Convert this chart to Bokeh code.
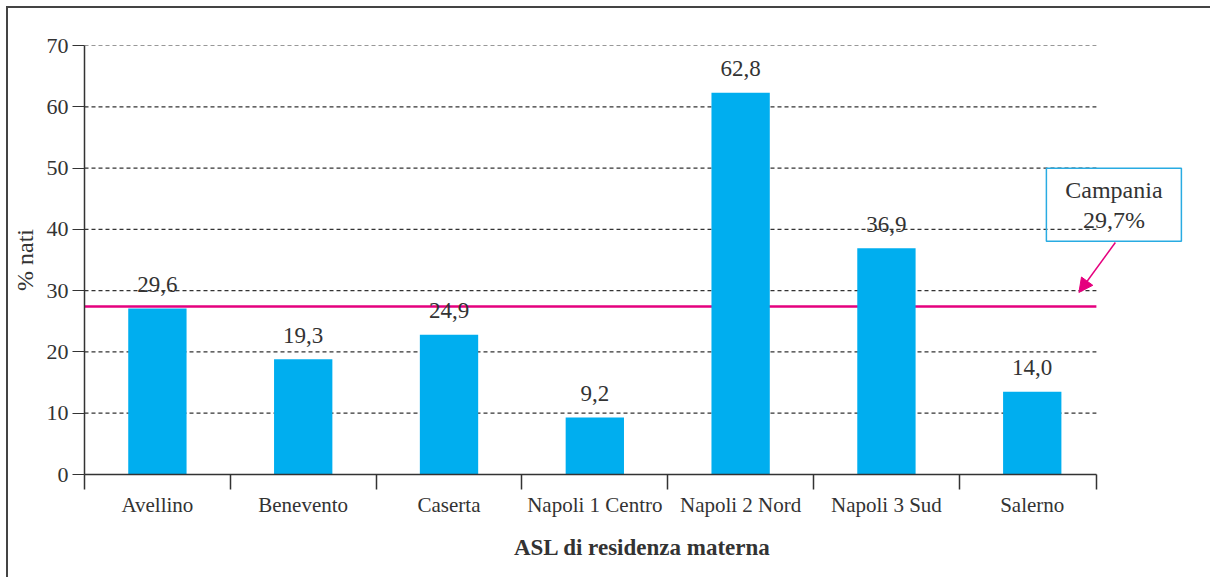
from bokeh.plotting import figure
from bokeh.models import Range1d, FixedTicker, Arrow, NormalHead
from bokeh.embed import file_html
from bokeh.resources import INLINE
from bokeh.core.properties import value

# ---------------- data ----------------
categories = ["Avellino", "Benevento", "Caserta", "Napoli 1 Centro",
              "Napoli 2 Nord", "Napoli 3 Sud", "Salerno"]
printed_values = [29.6, 19.3, 24.9, 9.2, 62.8, 36.9, 14.0]   # values printed above bars
bar_heights = [27.1, 18.8, 22.8, 9.3, 62.3, 36.9, 13.5]      # heights as drawn
campania_line = 27.4                                         # drawn reference line
campania_value = 29.7                                        # printed regional value
y_ticks = [0, 10, 20, 30, 40, 50, 60, 70]

# ---------------- style ----------------
FONT = "Liberation Serif"
TXT = "#333333"
CYAN = "#00AEEF"
MAGENTA = "#E5007E"
BOX = "#29ABE2"

n = len(categories)
axis_end = n - 0.06
x_end = n + 0.654
centers = [i + 0.5 for i in range(n)]
labels = [f"{v:.1f}".replace(".", ",") for v in printed_values]
campania_text = "Campania\n" + f"{campania_value:.1f}".replace(".", ",") + "%"

p = figure(width=1204, height=571, x_range=Range1d(0, x_end), y_range=Range1d(0, 70),
           output_backend="svg", toolbar_location=None,
           min_border_left=76, min_border_right=12, min_border_top=37, min_border_bottom=105)
p.outline_line_color = None
p.grid.visible = False
p.background_fill_color = "white"
p.border_fill_color = "white"
p.styles = {"margin-left": "6px", "margin-top": "6px",
            "border-top": "2px solid #444444", "border-left": "2px solid #444444"}

# gridlines (dashed)
grid_y = [t for t in y_ticks if t > 0]
p.segment(x0=[0] * len(grid_y), x1=[axis_end] * len(grid_y), y0=grid_y, y1=grid_y,
          line_color=TXT, line_width=1.2, line_dash="4 3")

# Campania reference line
p.segment(x0=[0], x1=[axis_end], y0=[campania_line], y1=[campania_line],
          line_color=MAGENTA, line_width=2.5)

# bars
p.vbar(x=centers, top=bar_heights, bottom=0, width=0.4, fill_color=CYAN, line_color=None)

# value labels
p.text(x=centers, y=bar_heights, text=labels, text_align="center", text_baseline="middle",
       y_offset=-24, text_font=value(FONT), text_font_size="23px", text_color=TXT)

# Campania annotation box
box_x = n + 0.06
box_y = 44.0
p.rect(x=[box_x], y=[box_y], width=135, height=73, width_units="screen", height_units="screen",
       fill_color=None, line_color=BOX, line_width=1.5)
p.text(x=[box_x], y=[box_y], text=[campania_text], text_align="center", text_baseline="middle",
       text_font=value(FONT), text_font_size="24px", text_color=TXT, text_line_height=1.15)
p.add_layout(Arrow(x_start=n + 0.07, y_start=37.85, x_end=n - 0.18, y_end=campania_value,
                   line_color=MAGENTA, line_width=1.5,
                   end=NormalHead(size=14, fill_color=MAGENTA, line_color=MAGENTA)))

# y axis
ya = p.yaxis[0]
ya.ticker = FixedTicker(ticks=y_ticks, minor_ticks=[])
ya.axis_line_color = TXT
ya.axis_line_width = 1.5
ya.major_tick_out = 12
ya.major_tick_in = 0
ya.major_tick_line_color = TXT
ya.minor_tick_out = 0
ya.minor_tick_in = 0
ya.major_label_text_font = FONT
ya.major_label_text_font_size = "22px"
ya.major_label_text_color = TXT
ya.major_label_standoff = 4
ya.axis_label = "% nati"
ya.axis_label_text_font = FONT
ya.axis_label_text_font_style = "normal"
ya.axis_label_text_font_size = "24px"
ya.axis_label_text_color = TXT
ya.axis_label_standoff = 6

# x axis
xa = p.xaxis[0]
xa.bounds = (0, axis_end)
xa.ticker = FixedTicker(ticks=centers, minor_ticks=list(range(n)) + [axis_end])
xa.major_label_overrides = {c: name for c, name in zip(centers, categories)}
xa.axis_line_color = TXT
xa.axis_line_width = 1.5
xa.major_tick_out = 0
xa.major_tick_in = 0
xa.minor_tick_out = 15
xa.minor_tick_in = 0
xa.minor_tick_line_color = TXT
xa.minor_tick_line_width = 1.5
xa.major_label_text_font = FONT
xa.major_label_text_font_size = "21px"
xa.major_label_text_color = TXT
xa.major_label_standoff = 3
xa.axis_label = "ASL di residenza materna"
xa.axis_label_text_font = FONT
xa.axis_label_text_font_style = "bold"
xa.axis_label_text_font_size = "23px"
xa.axis_label_text_color = TXT
xa.axis_label_standoff = 15

open("out.html", "w").write(file_html(p, INLINE))
